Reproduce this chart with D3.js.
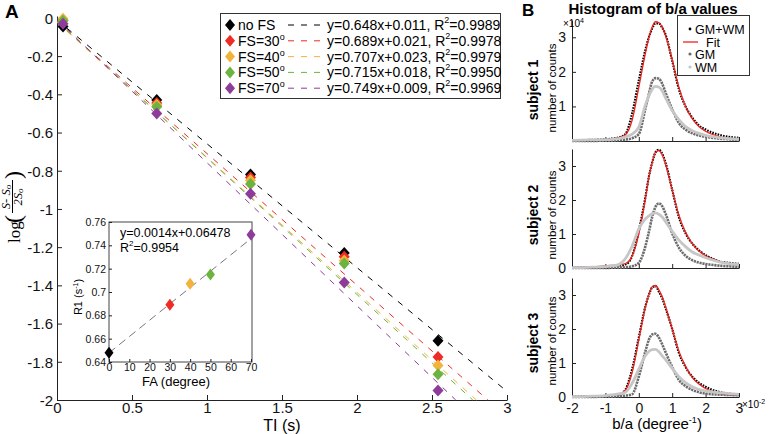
<!DOCTYPE html>
<html><head><meta charset="utf-8">
<script src="https://cdn.jsdelivr.net/npm/d3@7"></script>
<style>body{margin:0;background:#fff} svg{display:block}</style>
</head><body><svg id="c" width="769" height="434"></svg>
<script>
// ---------- Panel A data ----------
const TI = [0.04, 0.665, 1.29, 1.915, 2.54];
const seriesNames = ["no FS", "FS=30", "FS=40", "FS=50", "FS=70"];
const seriesSup = ["", "o", "o", "o", "o"];
const seriesColors = ["#000000", "#ee2b24", "#f2b33d", "#6db33f", "#8e3c99"];
const valsNoFS = [-0.045, -0.43, -0.82, -1.23, -1.69];
const valsFS30 = [-0.012, -0.445, -0.835, -1.25, -1.775];
const valsFS40 = [-0.005, -0.455, -0.85, -1.27, -1.82];
const valsFS50 = [-0.015, -0.465, -0.87, -1.285, -1.865];
const valsFS70 = [-0.03, -0.5, -0.92, -1.385, -1.95];
const fitSlope = [0.648, 0.689, 0.707, 0.715, 0.749];
const fitIntercept = [0.011, 0.021, 0.023, 0.018, 0.009];
const fitEqText = ["y=0.648x+0.011, R", "y=0.689x+0.021, R", "y=0.707x+0.023, R", "y=0.715x+0.018, R", "y=0.749x+0.009, R"];
const fitR2 = ["=0.9989", "=0.9978", "=0.9979", "=0.9950", "=0.9969"];
const xTicksA = [0, 0.5, 1, 1.5, 2, 2.5, 3];
const xTickLabelsA = ["0", "0.5", "1", "1.5", "2", "2.5", "3"];
const yTicksA = [0, -0.2, -0.4, -0.6, -0.8, -1, -1.2, -1.4, -1.6, -1.8, -2];
const yTickLabelsA = ["0", "-0.2", "-0.4", "-0.6", "-0.8", "-1", "-1.2", "-1.4", "-1.6", "-1.8", "-2"];
// inset
const FA = [0, 30, 40, 50, 70];
const R1 = [0.648, 0.689, 0.707, 0.715, 0.749];
const insetSlope = 0.0014, insetIntercept = 0.6478;
const insetXTicks = [0, 10, 20, 30, 40, 50, 60, 70];
const insetYTicks = [0.64, 0.66, 0.68, 0.7, 0.72, 0.74, 0.76];
const insetYTickLabels = ["0.64", "0.66", "0.68", "0.7", "0.72", "0.74", "0.76"];

// ---------- Panel B data (×10^-2 on x, ×10^4 on y) ----------
const bx = [-2, -1.5, -1, -0.8, -0.6, -0.4, -0.2, 0, 0.2, 0.3, 0.4, 0.5, 0.6, 0.7, 0.8, 1.0, 1.2, 1.4, 1.6, 1.8, 2.0, 2.4, 2.7, 3.0];
const s1All = [0.02,0.03,0.05,0.07,0.1,0.2,0.8,1.75,2.65,3.0,3.25,3.4,3.4,3.28,3.08,2.32,1.5,1.0,0.68,0.45,0.33,0.18,0.12,0.09];
const s1Fit = [0.01,0.02,0.04,0.06,0.1,0.18,0.6,1.55,2.55,2.98,3.3,3.45,3.42,3.3,3.05,2.35,1.55,1.0,0.65,0.42,0.28,0.13,0.08,0.05];
const s1GM  = [0,0,0.01,0.01,0.02,0.04,0.08,0.2,0.95,1.35,1.72,1.82,1.8,1.66,1.4,0.92,0.52,0.33,0.22,0.16,0.12,0.07,0.05,0.03];
const s1WM  = [0.02,0.03,0.04,0.05,0.07,0.12,0.2,0.4,1.05,1.3,1.5,1.58,1.56,1.45,1.25,0.88,0.62,0.42,0.3,0.22,0.16,0.1,0.07,0.05];
const s2All = [0.01,0.02,0.03,0.04,0.06,0.1,0.35,1.1,2.1,2.68,3.1,3.4,3.48,3.36,3.1,2.3,1.5,1.02,0.72,0.52,0.38,0.2,0.15,0.12];
const s2Fit = [0.01,0.03,0.06,0.08,0.1,0.13,0.35,1.0,2.05,2.65,3.1,3.4,3.45,3.33,3.05,2.3,1.55,1.05,0.72,0.5,0.36,0.2,0.12,0.08];
const s2GM  = [0,0,0,0.01,0.01,0.02,0.05,0.15,0.65,1.05,1.5,1.8,1.9,1.82,1.6,1.02,0.6,0.36,0.23,0.16,0.12,0.07,0.05,0.03];
const s2WM  = [0.01,0.02,0.04,0.06,0.1,0.28,0.64,1.15,1.45,1.53,1.6,1.62,1.58,1.5,1.36,1.08,0.82,0.63,0.47,0.38,0.3,0.18,0.13,0.1];
const s3All = [0.01,0.02,0.03,0.04,0.05,0.22,0.82,1.75,2.68,3.0,3.22,3.26,3.1,2.9,2.62,2.0,1.3,0.88,0.6,0.42,0.3,0.15,0.1,0.06];
const s3Fit = [0.01,0.02,0.04,0.06,0.09,0.2,0.72,1.68,2.65,3.0,3.24,3.28,3.15,2.95,2.66,2.0,1.35,0.9,0.58,0.38,0.25,0.11,0.06,0.04];
const s3GM  = [0,0,0.01,0.01,0.02,0.04,0.08,0.6,1.35,1.68,1.84,1.86,1.75,1.55,1.32,0.88,0.5,0.32,0.21,0.14,0.1,0.07,0.06,0.05];
const s3WM  = [0.01,0.02,0.04,0.06,0.09,0.14,0.4,0.82,1.22,1.34,1.39,1.4,1.33,1.21,1.1,0.84,0.6,0.42,0.3,0.22,0.18,0.13,0.1,0.08];
const bXTicks = [-2, -1, 0, 1, 2, 3];
const bSubjects = ["subject 1", "subject 2", "subject 3"];
const bLegendNames = ["GM+WM", "Fit", "GM", "WM"];

// ---------- drawing ----------
const SANS = '"Liberation Sans", Arial, Helvetica, sans-serif';
const SERIF = '"Liberation Serif", "Times New Roman", serif';
const svg = d3.select("#c").attr("font-family", SANS);

function diamond(w, h) {
  return `M0,${-h/2}L${w/2},0L0,${h/2}L${-w/2},0Z`;
}
function styleAxis(g, size) {
  g.attr("font-family", SANS);
  g.selectAll("text").attr("font-size", size).attr("fill", "#111");
  g.selectAll("line,path").attr("stroke", "#222");
}

// ===== Panel A =====
const xA = d3.scaleLinear().domain([0, 3]).range([57, 507]);
const yA = d3.scaleLinear().domain([-2, 0.01]).range([400, 16]);

const axYA = svg.append("g").attr("transform", `translate(${xA(0)},0)`)
  .call(d3.axisLeft(yA).tickValues(yTicksA).tickFormat((d, i) => yTickLabelsA[i])
    .tickSizeInner(-5).tickSizeOuter(0).tickPadding(4));
styleAxis(axYA, 15);
axYA.selectAll("text").attr("dy", "0.36em");
const axXA = svg.append("g").attr("transform", `translate(0,${yA(-2)})`)
  .call(d3.axisBottom(xA).tickValues(xTicksA).tickFormat((d, i) => xTickLabelsA[i])
    .tickSizeInner(-5).tickSizeOuter(0).tickPadding(2));
styleAxis(axXA, 15);
svg.append("text").attr("x", 282).attr("y", 431).attr("text-anchor", "middle")
  .attr("font-size", 16).text("TI (s)");

// fitted dashed lines
const lineA = d3.line().x(d => xA(d[0])).y(d => yA(d[1]));
fitSlope.forEach((a, i) => {
  const b = fitIntercept[i];
  const xEnd = Math.min(3, (2 - b) / a);
  svg.append("path").attr("d", lineA([[0, -b], [xEnd, -(a * xEnd + b)]]))
    .attr("fill", "none").attr("stroke", seriesColors[i]).attr("stroke-width", 1)
    .attr("stroke-dasharray", "6,7");
});
// markers
const allVals = [valsNoFS, valsFS30, valsFS40, valsFS50, valsFS70];
allVals.forEach((vals, i) => {
  svg.append("g").selectAll("path").data(vals).join("path")
    .attr("d", diamond(11, 12))
    .attr("transform", (d, j) => `translate(${xA(TI[j])},${yA(d)})`)
    .attr("fill", seriesColors[i]);
});

// legend A
const legA = svg.append("g");
legA.append("rect").attr("x", 220.5).attr("y", 13.5).attr("width", 280).attr("height", 85)
  .attr("fill", "#fff").attr("stroke", "#333").attr("stroke-width", 1);
seriesNames.forEach((nm, i) => {
  const cy = 25 + i * 15.8;
  legA.append("path").attr("d", diamond(10, 12)).attr("transform", `translate(230,${cy})`)
    .attr("fill", seriesColors[i]);
  const t = legA.append("text").attr("x", 238).attr("y", cy + 5).attr("font-size", 14).text(nm);
  if (seriesSup[i]) t.append("tspan").attr("font-size", 9).attr("dy", -6).text(seriesSup[i]);
  legA.append("line").attr("x1", 288).attr("x2", 326).attr("y1", cy).attr("y2", cy)
    .attr("stroke", seriesColors[i]).attr("stroke-dasharray", "6,7");
  const e = legA.append("text").attr("x", 327).attr("y", cy + 5).attr("font-size", 14).text(fitEqText[i]);
  e.append("tspan").attr("font-size", 9).attr("dy", -7).text("2");
  e.append("tspan").attr("dy", 7).text(fitR2[i]);
});

// y label A
const yl = svg.append("g").attr("transform", "translate(15,202) rotate(-90)").attr("font-family", SERIF);
yl.append("text").attr("x", -41).attr("y", 5).attr("font-size", 17).text("log");
yl.append("text").attr("x", -21).attr("y", 6).attr("font-size", 24).text("(");
yl.append("line").attr("x1", -11).attr("x2", 22).attr("y1", -2.5).attr("y2", -2.5).attr("stroke", "#000").attr("stroke-width", 1);
const num = yl.append("text").attr("x", 5).attr("y", -5).attr("text-anchor", "middle").attr("font-size", 12.5).attr("font-style", "italic");
num.append("tspan").text("S- S");
num.append("tspan").attr("font-size", 9).attr("dy", 1).text("o");
const den = yl.append("text").attr("x", 5).attr("y", 7).attr("text-anchor", "middle").attr("font-size", 12.5).attr("font-style", "italic");
den.append("tspan").text("2S");
den.append("tspan").attr("font-size", 9).attr("dy", 1).text("o");
yl.append("text").attr("x", 23).attr("y", 6).attr("font-size", 24).text(")");

// panel letters
svg.append("text").attr("x", 5).attr("y", 18).attr("font-size", 19).attr("font-weight", "bold").text("A");
svg.append("text").attr("x", 522).attr("y", 16).attr("font-size", 17).attr("font-weight", "bold").text("B");

// ===== Inset =====
const xI = d3.scaleLinear().domain([0, 70]).range([109, 251]);
const yI = d3.scaleLinear().domain([0.64, 0.76]).range([362, 222]);
svg.append("rect").attr("x", 109).attr("y", 222).attr("width", 143).attr("height", 140)
  .attr("fill", "#fff").attr("stroke", "#444").attr("stroke-width", 1);
const axYI = svg.append("g").attr("transform", "translate(109,0)")
  .call(d3.axisLeft(yI).tickValues(insetYTicks).tickFormat((d, i) => insetYTickLabels[i])
    .tickSizeInner(-3).tickSizeOuter(0).tickPadding(3));
styleAxis(axYI, 10.5);
const axXI = svg.append("g").attr("transform", "translate(0,362)")
  .call(d3.axisBottom(xI).tickValues(insetXTicks).tickSizeInner(-3).tickSizeOuter(0).tickPadding(2));
styleAxis(axXI, 10.5);
axXI.selectAll("path").remove();
axYI.selectAll("path").remove();
svg.append("path").attr("d", lineA.x(d => xI(d[0])).y(d => yI(d[1]))([[0, insetIntercept], [70, insetSlope * 70 + insetIntercept]]))
  .attr("fill", "none").attr("stroke", "#777").attr("stroke-width", 1).attr("stroke-dasharray", "8,5");
svg.append("g").selectAll("path").data(R1).join("path")
  .attr("d", diamond(9, 12))
  .attr("transform", (d, j) => `translate(${xI(FA[j])},${yI(d)})`)
  .attr("fill", (d, j) => seriesColors[j]);
svg.append("text").attr("x", 120).attr("y", 237).attr("font-size", 12.5).text("y=0.0014x+0.06478");
const r2t = svg.append("text").attr("x", 120).attr("y", 252).attr("font-size", 12.5).text("R");
r2t.append("tspan").attr("font-size", 8).attr("dy", -6).text("2");
r2t.append("tspan").attr("dy", 6).text("=0.9954");
svg.append("text").attr("x", 176).attr("y", 386).attr("text-anchor", "middle").attr("font-size", 13).text("FA (degree)");
const r1l = svg.append("text").attr("transform", "translate(82,297) rotate(-90)").attr("text-anchor", "middle").attr("font-size", 11).text("R1 (s");
r1l.append("tspan").attr("font-size", 7).attr("dy", -4).text("-1");
r1l.append("tspan").attr("dy", 4).text(")");

// ===== Panel B =====
svg.append("text").attr("x", 653).attr("y", 14).attr("text-anchor", "middle")
  .attr("font-size", 15).attr("font-weight", "bold").text("Histogram of b/a values");
const xB = d3.scaleLinear().domain([-2, 3]).range([572, 739]);
const subs = [
  { top: 20, bot: 141, all: s1All, fit: s1Fit, gm: s1GM, wm: s1WM, yt: [1, 2, 3], subjY: 90, ncY: 88 },
  { top: 149, bot: 268, all: s2All, fit: s2Fit, gm: s2GM, wm: s2WM, yt: [0, 1, 2, 3], subjY: 215, ncY: 215 },
  { top: 278, bot: 397, all: s3All, fit: s3Fit, gm: s3GM, wm: s3WM, yt: [0, 1, 2, 3], subjY: 343, ncY: 341 }
];
subs.forEach((s, k) => {
  const yB = d3.scaleLinear().domain([0, 3.5]).range([s.bot, s.top]);
  const ay = svg.append("g").attr("transform", "translate(572,0)")
    .call(d3.axisLeft(yB).tickValues(s.yt).tickSizeInner(-4).tickSizeOuter(0).tickPadding(6).tickFormat(d3.format("d")));
  styleAxis(ay, 14);
  const ax = svg.append("g").attr("transform", `translate(0,${s.bot})`)
    .call(d3.axisBottom(xB).tickValues(bXTicks).tickSizeInner(-4).tickSizeOuter(0).tickPadding(6)
      .tickFormat(k === 2 ? d3.format("d") : () => ""));
  styleAxis(ax, 14);
  ax.selectAll("text").text(d => (k === 2 ? String(d).replace("\u2212", "-") : ""));
  const ln = d3.line().x((d, i) => xB(bx[i])).y(d => yB(d)).curve(d3.curveMonotoneX);
  svg.append("path").attr("d", ln(s.all)).attr("fill", "none").attr("stroke", "#000")
    .attr("stroke-width", 2.2).attr("stroke-dasharray", "1.6,1.2");
  svg.append("path").attr("d", ln(s.fit)).attr("fill", "none").attr("stroke", "#f0211b")
    .attr("stroke-width", 1.3);
  svg.append("path").attr("d", ln(s.gm)).attr("fill", "none").attr("stroke", "#6d6d6d")
    .attr("stroke-width", 2.6).attr("stroke-dasharray", "2.2,0.8");
  svg.append("path").attr("d", ln(s.wm)).attr("fill", "none").attr("stroke", "#c6c6c6")
    .attr("stroke-width", 2.8);
  svg.append("text").attr("transform", `translate(538,${s.subjY}) rotate(-90)`).attr("text-anchor", "middle")
    .attr("font-size", 14).attr("font-weight", "bold").text(bSubjects[k]);
  svg.append("text").attr("transform", `translate(556,${s.ncY}) rotate(-90)`).attr("text-anchor", "middle")
    .attr("font-size", 11.5).text("number of counts");
});
const e4 = svg.append("text").attr("x", 563).attr("y", 27).attr("font-size", 10).text("\u00d710");
e4.append("tspan").attr("font-size", 7).attr("dy", -4).text("4");
const e2 = svg.append("text").attr("x", 742).attr("y", 408).attr("font-size", 10).text("\u00d710");
e2.append("tspan").attr("font-size", 7).attr("dy", -4).text("-2");
const bl = svg.append("text").attr("x", 657).attr("y", 429).attr("text-anchor", "middle").attr("font-size", 15).text("b/a (degree");
bl.append("tspan").attr("font-size", 9).attr("dy", -6).text("-1");
bl.append("tspan").attr("dy", 6).text(")");

// legend B
const legB = svg.append("g");
legB.append("rect").attr("x", 677.5).attr("y", 15.5).attr("width", 72).attr("height", 60)
  .attr("fill", "#fff").attr("stroke", "#333");
const lbY = [29, 42, 54, 67];
legB.append("circle").attr("cx", 690).attr("cy", lbY[0]).attr("r", 1.4).attr("fill", "#000");
legB.append("line").attr("x1", 683).attr("x2", 698).attr("y1", lbY[1]).attr("y2", lbY[1]).attr("stroke", "#f0211b").attr("stroke-width", 1.3);
legB.append("circle").attr("cx", 690).attr("cy", lbY[2]).attr("r", 1.6).attr("fill", "#6d6d6d");
legB.append("circle").attr("cx", 690).attr("cy", lbY[3]).attr("r", 1.6).attr("fill", "#c6c6c6");
const lbX = [695, 706, 695, 695];
bLegendNames.forEach((nm, i) => {
  legB.append("text").attr("x", lbX[i]).attr("y", lbY[i] + 4.5).attr("font-size", 12.5).text(nm);
});
</script></body></html>
